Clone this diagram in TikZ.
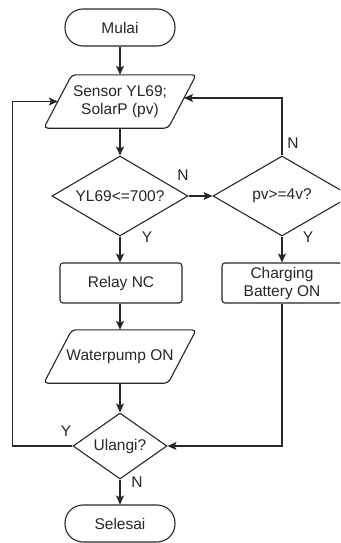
\documentclass[tikz,border=0pt]{standalone}
\usepackage{fontspec}
\setmainfont{Liberation Sans}
\usetikzlibrary{shapes.geometric,arrows.meta,calc}
\begin{document}
\begin{tikzpicture}[x=1pt,y=-1pt,
  every node/.style={font=\fontsize{15.5}{18}\selectfont, text=black!85},
  line/.style={line width=1.1pt, draw=black!85},
  arr/.style={line, -{Stealth[length=9pt,width=8pt,inset=2pt]}},
  term/.style={line, rectangle, rounded corners=18pt, minimum width=110pt, minimum height=37pt, inner sep=0pt},
  proc/.style={line, rectangle, rounded corners=3pt, minimum width=122pt, minimum height=40pt, inner sep=0pt, align=center},
  dec/.style={line, diamond, inner sep=0pt, aspect=1.7, minimum width=136pt, minimum height=80pt},
  iobox/.style={rectangle, minimum width=124pt, minimum height=53pt, inner sep=0pt, align=center},
  para/.style={line, rounded corners=4pt},
  lbl/.style={inner sep=0pt}
]
\clip (0,0) rectangle (340,543);

\node[term] (mulai) at (120,27.5) {Mulai};
\node[iobox] (sensor) at (120,101.5) {Sensor YL69;\\SolarP (pv)};
\draw[para] ($(sensor.north west)+(14,0)$) -- ($(sensor.north east)+(14,0)$) -- ($(sensor.south east)+(-14,0)$) -- ($(sensor.south west)+(-14,0)$) -- cycle;
\node[dec] (d1) at (120,196) {YL69<=700?};
\node[dec, minimum width=138pt] (d2) at (282,196) {pv>=4v?};
\node[proc] (relay) at (121,283) {Relay NC};
\node[proc, minimum width=120pt] (charge) at (282,283) {Charging\\Battery ON};
\node[iobox] (pump) at (120,356.5) {Waterpump ON};
\draw[para] ($(pump.north west)+(14,0)$) -- ($(pump.north east)+(14,0)$) -- ($(pump.south east)+(-14,0)$) -- ($(pump.south west)+(-14,0)$) -- cycle;
\node[dec, minimum width=94pt, minimum height=66pt, aspect=1.42] (ulangi) at (120,446) {Ulangi?};
\node[term] (selesai) at (120,523.5) {Selesai};

\coordinate (sensorR) at ($(sensor.east)+(1.85,-3.5)$);

\draw[arr] (mulai) -- (sensor.north -| mulai);
\draw[arr] (sensor.south) -- (d1.north);
\draw[arr] (d1.east) -- (d2.west);
\draw[arr] (d1.south) -- (relay.north -| d1.south);
\draw[arr] (d2.south) -- (charge.north);
\draw[arr] (relay.south -| d1.south) -- (pump.north);
\draw[arr] (pump.south) -- (ulangi.north);
\draw[arr] (ulangi.south) -- (selesai.north);
\draw[arr] (d2.north) |- (sensorR);
\draw[arr] (ulangi.west) -- ++(-60,0) |- (sensor.west);
\draw[arr] (charge.south) |- (ulangi.east);

\node[lbl] (n1) at (183,175) {N};
\node[lbl] (y1) at (147,237) {Y};
\node[lbl] (n2) at (293,143) {N};
\node[lbl] (y2) at (308,237) {Y};
\node[lbl] (y3) at (66,431) {Y};
\node[lbl] (n3) at (137,482) {N};
\end{tikzpicture}
\end{document}
